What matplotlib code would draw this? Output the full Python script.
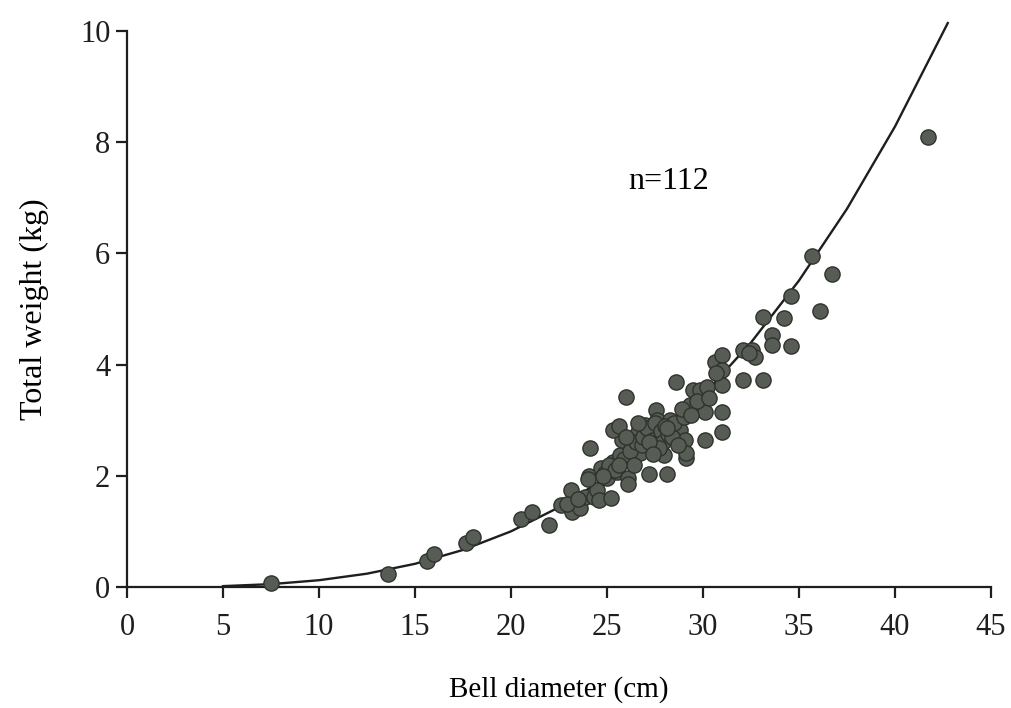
import matplotlib
matplotlib.use("Agg")
import matplotlib.pyplot as plt
import numpy as np

plt.rcParams['font.family'] = ['Liberation Serif', 'DejaVu Serif']

# Observed data (bell diameter cm, total weight kg)
diameter = [7.5, 13.6, 15.6, 16.0, 17.65, 18.0, 20.5, 21.1, 22.0, 22.6,
            23.1, 23.2, 23.6, 23.85, 24.06, 24.1, 24.3, 24.5, 24.6, 24.7,
            25.0, 25.2, 25.3, 25.5, 25.7, 25.8, 25.3, 25.6, 26.1, 26.1,
            26.0, 26.3, 26.6, 26.7, 27.0, 27.2, 27.3, 27.55, 27.6, 27.76,
            27.97, 28.1, 28.3, 28.6, 28.8, 29.06, 29.1, 29.1, 29.3, 29.5,
            29.85, 30.1, 30.1, 30.2, 30.6, 31.0, 31.0, 31.0, 31.0, 31.0,
            32.1, 32.1, 32.55, 32.7, 33.1, 33.1, 33.6, 33.6, 34.2, 34.6,
            34.6, 35.7, 36.1, 36.7, 41.7,
            22.9, 23.5, 24.0, 24.9, 25.1, 25.4, 25.9, 26.2, 26.4, 26.5,
            26.8, 26.9, 27.1, 27.4, 27.5, 27.8, 27.9, 28.0, 28.2, 28.4,
            28.5, 28.7, 29.0, 29.7, 30.3, 27.7, 26.6, 27.2, 28.1, 24.8,
            25.6, 26.0, 27.4, 28.9, 29.4, 30.7, 32.4]
weight = [0.07, 0.23, 0.47, 0.59, 0.79, 0.90, 1.22, 1.35, 1.12, 1.47,
          1.74, 1.35, 1.42, 1.62, 2.00, 2.50, 1.62, 1.74, 1.56, 2.14,
          1.96, 1.60, 2.25, 2.07, 2.37, 2.64, 2.82, 2.90, 1.96, 1.85,
          3.42, 2.28, 2.78, 2.41, 2.91, 2.03, 2.55, 3.18, 3.00, 2.73,
          2.37, 2.03, 3.00, 3.69, 2.82, 2.64, 2.32, 2.41, 3.27, 3.54,
          3.54, 3.15, 2.64, 3.60, 4.05, 4.17, 3.90, 3.63, 3.15, 2.79,
          3.72, 4.26, 4.26, 4.14, 4.86, 3.72, 4.53, 4.35, 4.84, 5.23,
          4.33, 5.95, 4.96, 5.63, 8.09,
          1.50, 1.58, 1.95, 2.05, 2.20, 2.10, 2.30, 2.45, 2.20, 2.60,
          2.55, 2.70, 2.85, 2.65, 2.95, 2.80, 2.60, 2.90, 2.75, 2.70,
          2.95, 2.55, 3.05, 3.35, 3.40, 2.50, 2.95, 2.60, 2.85, 2.00,
          2.20, 2.70, 2.40, 3.20, 3.10, 3.85, 4.20]

# Fitted power-law curve W = a * D^b
fit_a = 1.076e-4
fit_b = 3.05
fit_x = [5, 7.5, 10, 12.5, 15, 17.5, 20, 22.5, 25, 27.5, 30, 32.5, 35, 37.5, 40, 42.75]

xticks = [0, 5, 10, 15, 20, 25, 30, 35, 40, 45]
yticks = [0, 2, 4, 6, 8, 10]

fig = plt.figure(figsize=(10.11, 7.08), dpi=100)
ax = fig.add_axes([0.1256, 0.171, 0.8546, 0.7852])

fx = np.array(fit_x, dtype=float)
ax.plot(fx, fit_a * fx ** fit_b, color='#1e1e1e', lw=1.7, zorder=3, clip_on=False)
ax.scatter(diameter, weight, s=120, color='#575d55', edgecolors='#2e332d',
           linewidths=1.0, zorder=4, clip_on=False)

ax.set_xlim(0, 45)
ax.set_ylim(0, 10)
ax.set_xticks(xticks)
ax.set_yticks(yticks)
for s in ['top', 'right']:
    ax.spines[s].set_visible(False)
for s in ['left', 'bottom']:
    ax.spines[s].set_linewidth(1.6)
    ax.spines[s].set_color('#1e1e1e')
ax.tick_params(direction='out', length=8, width=1.6, labelsize=22, colors='#1e1e1e')
ax.tick_params(axis='x', pad=11)
ax.tick_params(axis='y', pad=4)

ax.set_xlabel('Bell diameter (cm)', fontsize=21, labelpad=24)
ax.set_ylabel('Total weight (kg)', fontsize=23, labelpad=22)
ax.text(28.2, 7.3, 'n=112', fontsize=23, ha='center', va='center')

fig.savefig('out.png', dpi=100)
